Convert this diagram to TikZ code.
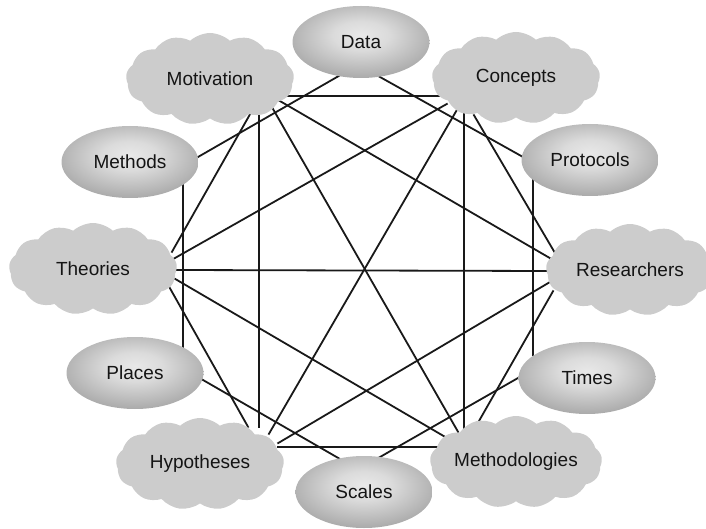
\documentclass[tikz,border=0pt]{standalone}
\usepackage{fontspec}
\setmainfont{Liberation Sans}
\usetikzlibrary{shapes.geometric,shapes.symbols,calc}
\pgfdeclarelayer{bg}
\pgfsetlayers{bg,main}
\pgfdeclareradialshading{ellshade}{\pgfpoint{0bp}{5bp}}{%
  color(0bp)=(black!9); color(10bp)=(black!14); color(28bp)=(black!33);
  color(42bp)=(black!48); color(50bp)=(black!56); color(80bp)=(black!56)}
\tikzset{
  ell/.style={ellipse, shade, shading=ellshade, minimum width=137pt, minimum height=72pt, inner sep=0pt,
    font=\fontsize{19}{21}\selectfont, text=black!92},
  cld/.style={cloud, cloud puffs=13, cloud puff arc=85, cloud ignores aspect, fill=black!20, draw=none,
    minimum width=168pt, minimum height=92pt, inner sep=0pt,
    font=\fontsize{19}{21}\selectfont, text=black!92},
  link/.style={line width=1.8pt, black!90, shorten <=-3pt, shorten >=-3pt}
}
\begin{document}
\begin{tikzpicture}[x=1pt,y=-1pt]
\useasboundingbox (0,0) rectangle (706,529);
% ellipses
\node[ell] (data) at (361,42) {Data};
\node[ell] (prot) at (590,160) {Protocols};
\node[ell] (times) at (587,378) {Times};
\node[ell] (scales) at (364,492) {Scales};
\node[ell] (places) at (135,373) {Places};
\node[ell] (methods) at (130,162) {Methods};
% clouds
\node[cld] (mot) at (210,79) {Motivation};
\node[cld] (conc) at (516,78) {Concepts};
\node[cld] (res) at (630,270) {Researchers};
\node[cld] (meth) at (516,462) {Methodologies};
\node[cld] (hyp) at (200,464) {Hypotheses};
\node[cld] (theo) at (93,269) {Theories};
\begin{pgfonlayer}{bg}
% cloud network
\draw[link] ($(mot)+(63,17)$) -- ($(conc)+(-79,18)$);
\draw[link] ($(mot)+(49,29)$) -- ($(hyp)+(59,-39)$);
\draw[link] ($(mot)+(43,30)$) -- ($(theo)+(80,-19)$);
\draw[link] ($(mot)+(59,23)$) -- ($(meth)+(-59,-32)$);
\draw[link] ($(mot)+(63,18)$) -- ($(res)+(-82,-13)$);
\draw[link] ($(conc)+(-71,27)$) -- ($(theo)+(82,-11)$);
\draw[link] ($(conc)+(-58,30)$) -- ($(hyp)+(70,-32)$);
\draw[link] ($(conc)+(-52,35)$) -- ($(meth)+(-52,-32)$);
\draw[link] ($(conc)+(-41,39)$) -- ($(res)+(-75,-17)$);
\draw[link] ($(theo)+(84,1)$) -- ($(res)+(-82,1)$);
\draw[link] ($(theo)+(74,14)$) -- ($(hyp)+(47,-39)$);
\draw[link] ($(theo)+(84,11)$) -- ($(meth)+(-69,-24)$);
\draw[link] ($(res)+(-80,12)$) -- ($(hyp)+(80,-22)$);
\draw[link] ($(res)+(-78,23)$) -- ($(meth)+(-41,-34)$);
\draw[link] ($(hyp)+(80,-17)$) -- ($(meth)+(-68,-15)$);
% ellipse ring
\draw[link] ($(data)+(-24,35)$) -- ($(methods)+(68,-5)$);
\draw[link] ($(data)+(19,35)$) -- ($(prot)+(-67,-3)$);
\draw[link] ($(prot)+(-57,22)$) -- ($(times)+(-54,-25)$);
\draw[link] ($(methods)+(53,22)$) -- ($(places)+(48,-28)$);
\draw[link] ($(places)+(68,7)$) -- ($(scales)+(-24,-33)$);
\draw[link] ($(scales)+(16,-35)$) -- ($(times)+(-69,0)$);
\end{pgfonlayer}
\end{tikzpicture}
\end{document}
